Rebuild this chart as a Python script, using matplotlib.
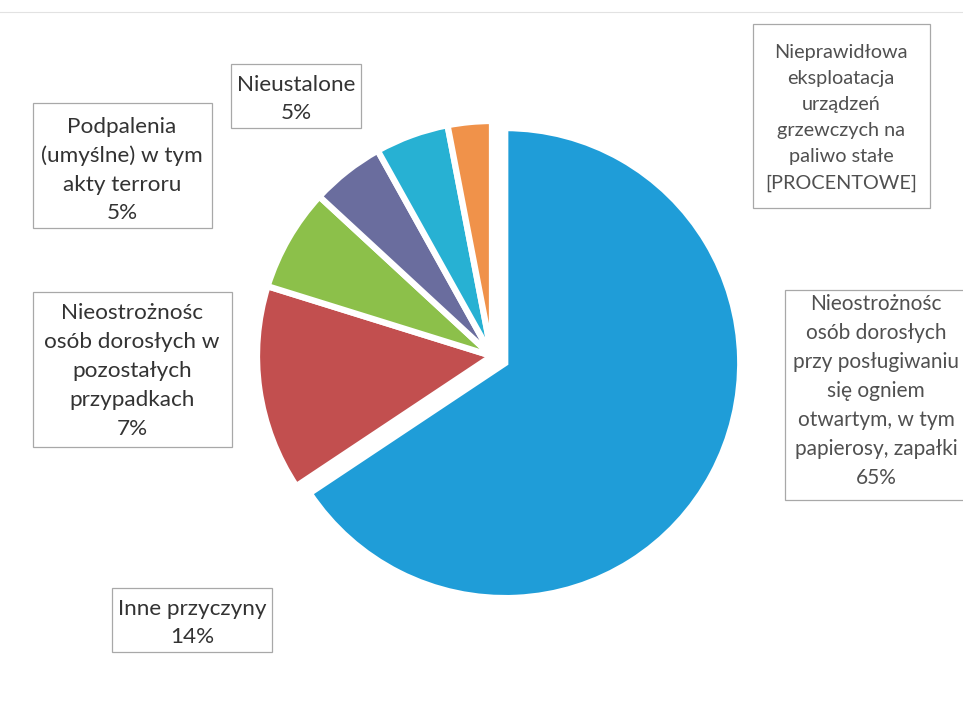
import matplotlib
matplotlib.use("Agg")
import matplotlib.pyplot as plt
from matplotlib.patches import Rectangle

# Data (clockwise from 12 o'clock)
categories = [
    "Nieostrożnośc\nosób dorosłych\nprzy posługiwaniu\nsię ogniem\notwartym, w tym\npapierosy, zapałki",
    "Inne przyczyny",
    "Nieostrożnośc\nosób dorosłych w\npozostałych\nprzypadkach",
    "Podpalenia\n(umyślne) w tym\nakty terroru",
    "Nieustalone",
    "Nieprawidłowa\neksploatacja\nurządzeń\ngrzewczych na\npaliwo stałe",
]
values = [65, 14, 7, 5, 5, 3]
value_labels = ["65%", "14%", "7%", "5%", "5%", "[PROCENTOWE]"]
colors = ["#1f9dd8", "#c24f4f", "#8cc04a", "#6a6d9e", "#27b1d3", "#f0924a"]

W, H = 963, 715
fig = plt.figure(figsize=(W / 100, H / 100), dpi=100)
ax = fig.add_axes([0, 0, 1, 1])

cx, cy = 492, 356  # screen coords
R = 235
explode = [15, 0, 0, 0, 0, 0]  # in pixel data units
ax.pie(values, colors=colors, startangle=90, counterclock=False,
       center=(cx, H - cy), radius=R, explode=explode,
       wedgeprops=dict(edgecolor="white", linewidth=4.5))

ax.set_xlim(0, W)
ax.set_ylim(0, H)
ax.set_aspect("equal")
ax.axis("off")

font = "Lato"

# label boxes: (x0, y0, x1, y1) screen px, text center x, text center y, size, spacing, color
boxes = [
    (785, 290, 975, 500, 876, 391, 15.0, 1.57, "#505050"),
    (112, 588, 272, 652, 192, 623, 16.2, 1.52, "#333333"),
    (33, 292, 232, 447, 132, 371, 16.2, 1.55, "#333333"),
    (33, 103, 212, 228, 122, 170, 16.2, 1.52, "#333333"),
    (231, 64, 361, 128, 296, 99, 16.2, 1.52, "#333333"),
    (753, 24, 930, 208, 841, 118, 14.3, 1.65, "#505050"),
]
for (x0, y0, x1, y1, tx, ty, fs, ls, tc), cat, vl in zip(boxes, categories, value_labels):
    ax.add_patch(Rectangle((x0, H - y1), x1 - x0, y1 - y0, facecolor="white",
                           edgecolor="#a8a8a8", linewidth=0.9, zorder=3))
    ax.text(tx, H - ty, cat + "\n" + vl, ha="center", va="center", fontsize=fs,
            family=font, color=tc, linespacing=ls, zorder=4)

# faint top border line
ax.plot([0, W], [H - 12, H - 12], color="#e2e2e2", linewidth=0.8)

fig.savefig("out.png", dpi=100)
